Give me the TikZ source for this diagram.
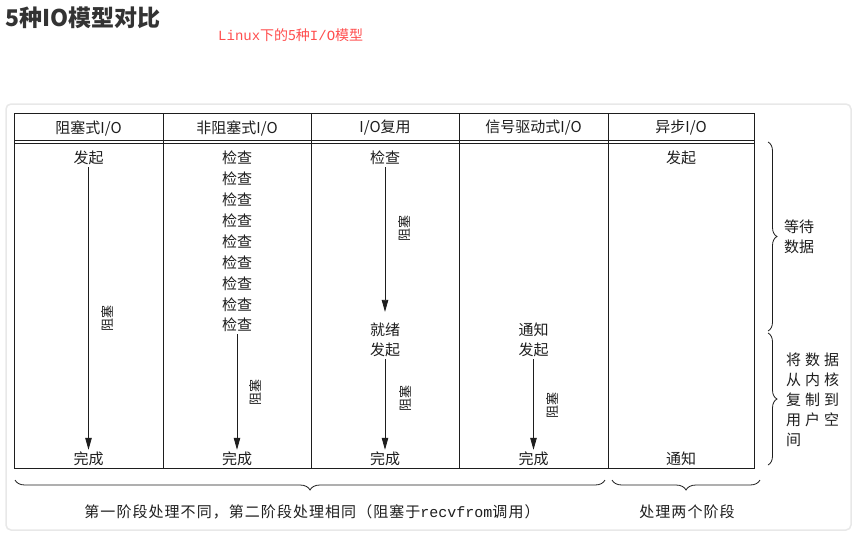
\documentclass[tikz,border=0pt]{standalone}
\usepackage{fontspec}
\setmainfont{Noto Sans CJK SC}
\setmonofont{Liberation Mono}
\usetikzlibrary{arrows.meta,decorations.pathreplacing}

\definecolor{inkgray}{RGB}{30,30,30}
\definecolor{titlegray}{RGB}{51,51,51}
\definecolor{notered}{RGB}{255,77,77}
\definecolor{panelgray}{RGB}{232,232,232}

\newcommand{\cgap}{\hspace{4pt}}

\tikzset{
  cell/.style={font=\fontsize{15}{20}\selectfont, text=inkgray, inner sep=2pt},
  widecell/.style={cell, font=\fontsize{15}{20}\selectfont\addfontfeature{LetterSpace=7}},
  blocknote/.style={font=\fontsize{13}{15}\selectfont, text=inkgray, rotate=90, inner sep=1pt},
  blockarrow/.style={-{Triangle[length=12pt,width=6.5pt]}, inkgray, line width=0.8pt},
  tablerule/.style={inkgray, line width=1pt},
  sidebrace/.style={decorate, decoration={brace, amplitude=9pt}, inkgray, line width=0.8pt},
  basebrace/.style={decorate, decoration={brace, mirror, amplitude=10pt}, inkgray, line width=0.8pt},
}

\begin{document}
\begin{tikzpicture}[x=1pt, y=-1pt]
    \useasboundingbox (0,0) rectangle (863,542);

    % Title
    \node[anchor=west, font=\fontsize{23}{26}\selectfont\bfseries, text=titlegray, inner sep=0pt] (title) at (5,18) {5种IO模型对比};
    \node[anchor=west, font=\fontsize{14}{16}\selectfont, text=notered, inner sep=0pt] (subtitle) at (218,35) {{\ttfamily Linux}下的5种{\ttfamily I/O}模型};

    % Panel
    \draw[panelgray, line width=1.5pt, fill=white, rounded corners=5pt] (6,104) rectangle (851,530);

    % Table frame
    \draw[tablerule] (14,113) rectangle (754,468);
    \draw[tablerule] (14,140) -- (754,140);
    \draw[tablerule] (14,143) -- (754,143);
    \foreach \x in {163,311,459,608}
        \draw[tablerule] (\x,113) -- (\x,468);

    % Headers
    \node[cell] (h1) at (88.5,128) {阻塞式I/O};
    \node[cell] (h2) at (237,128) {非阻塞式I/O};
    \node[cell] (h3) at (385,128) {I/O复用};
    \node[cell] (h4) at (533.5,128) {信号驱动式I/O};
    \node[cell] (h5) at (681,128) {异步I/O};

    % Blocking I/O
    \node[cell] (start1) at (88.5,158) {发起};
    \node[cell] (done1) at (88.5,459) {完成};
    \draw[blockarrow] (start1) -- (done1);
    \node[blocknote] (block1) at (108,318) {阻塞};

    % Non-blocking I/O
    \foreach \i in {1,...,9}
        \node[cell] (check\i) at (237,137.1+20.9*\i) {检查};
    \node[cell] (done2) at (237,459) {完成};
    \draw[blockarrow] (check9) -- (done2);
    \node[blocknote] (block2) at (255,392) {阻塞};

    % I/O multiplexing
    \node[cell] (select3) at (385,158) {检查};
    \node[cell] (ready3) at (385,330) {就绪};
    \node[cell] (start3) at (385,350) {发起};
    \node[cell] (done3) at (385,459) {完成};
    \draw[blockarrow, shorten >=9pt] (select3) -- (ready3);
    \draw[blockarrow] (start3) -- (done3);
    \node[blocknote] (block3a) at (404,228) {阻塞};
    \node[blocknote] (block3b) at (405,398) {阻塞};

    % Signal driven I/O
    \node[cell] (notify4) at (533.5,330) {通知};
    \node[cell] (start4) at (533.5,350) {发起};
    \node[cell] (done4) at (533.5,459) {完成};
    \draw[blockarrow] (start4) -- (done4);
    \node[blocknote] (block4) at (552,405) {阻塞};

    % Asynchronous I/O
    \node[cell] (start5) at (681,158) {发起};
    \node[cell] (notify5) at (681,459) {通知};

    % Phase braces
    \draw[sidebrace] (768,142) -- (768,331);
    \node[cell, anchor=west, align=left] (wait) at (782,237) {等待\\数据};
    \draw[sidebrace] (768,333) -- (768,465);
    \node[cell, anchor=west, align=left] (copy) at (784,400) {将\cgap 数\cgap 据\\从\cgap 内\cgap 核\\复\cgap 制\cgap 到\\用\cgap 户\cgap 空\\间};

    % Bottom braces
    \draw[basebrace] (15,480) -- (605,480);
    \node[widecell] (stage1) at (312,512) {第一阶段处理不同，第二阶段处理相同（阻塞于{\ttfamily recvfrom}调用）};
    \draw[basebrace] (612,480) -- (760,480);
    \node[widecell] (stage2) at (687,512) {处理两个阶段};

\end{tikzpicture}
\end{document}
